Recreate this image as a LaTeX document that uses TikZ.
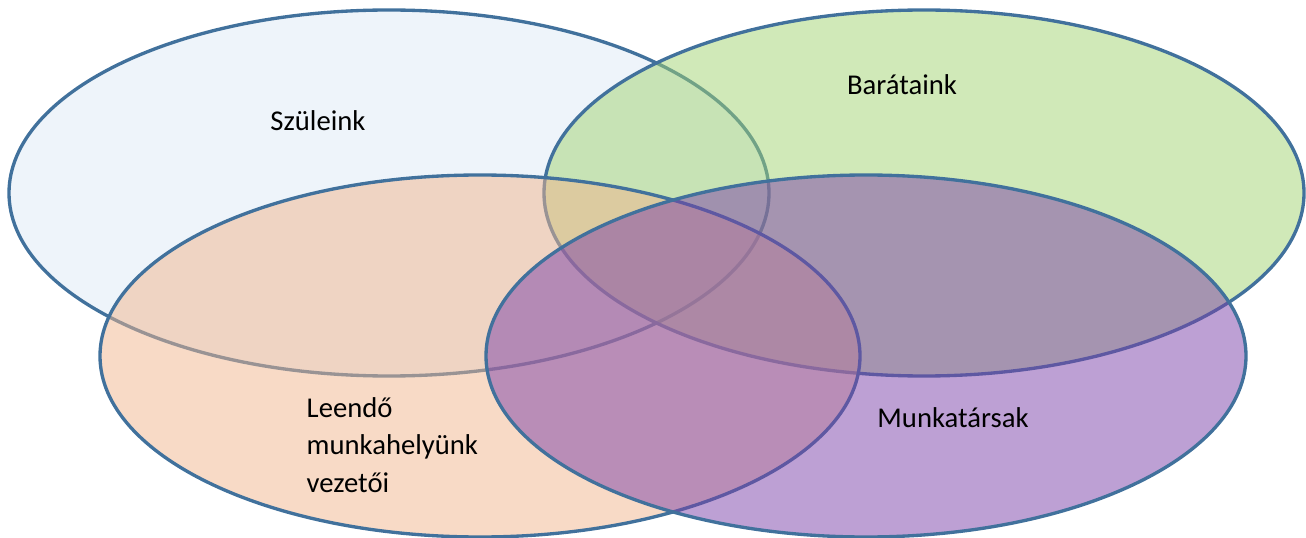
\documentclass[tikz,border=0pt]{standalone}
\usepackage{fontspec}
\setmainfont{Carlito}
\definecolor{rim}{HTML}{41719C}
\definecolor{parentsfill}{HTML}{EEF4FA}
\definecolor{friendsfill}{HTML}{A1D371}
\definecolor{bossfill}{HTML}{F1B58D}
\definecolor{workfill}{HTML}{7B41A9}
\begin{document}
\begin{tikzpicture}[x=0.75pt, y=-0.75pt,
  set/.style = {draw=rim, line width=2.5pt},
  seethru/.style = {set, fill opacity=0.5},
  every node/.style = {font=\fontsize{21.5}{28}\selectfont, text=black}]
    \useasboundingbox (0,0) rectangle (1306,538);
    % the four sets
    \fill[parentsfill] (389,193) ellipse (380 and 183);
    \draw[set] (389,193) ellipse (380 and 183);
    \draw[seethru, fill=friendsfill] (924,193) ellipse (380 and 183);
    \draw[seethru, fill=bossfill] (480,356) ellipse (380 and 181);
    \draw[seethru, fill=workfill] (866,356) ellipse (380 and 181);
    % labels
    \node (parents) at (318,121) {Szüleink};
    \node (friends) at (902,85) {Barátaink};
    \node[align=left, anchor=west] (boss) at (302,445) {Leendő\\munkahelyünk\\vezetői};
    \node (work) at (953,418) {Munkatársak};
\end{tikzpicture}
\end{document}
